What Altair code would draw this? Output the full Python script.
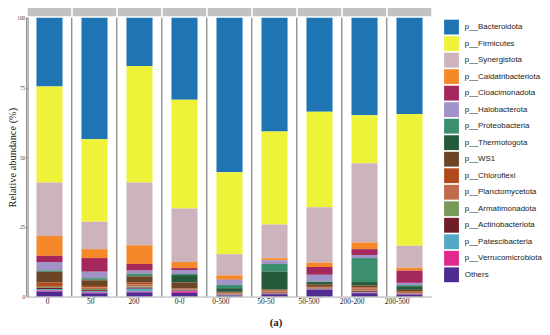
import altair as alt
import pandas as pd

samples = ["0", "50", "200", "0-0", "0-500", "50-50", "50-500", "200-200", "200-500"]
phyla = ["p__Bacteroidota", "p__Firmicutes", "p__Synergistota", "p__Caldatribacteriota",
         "p__Cloacimonadota", "p__Halobacterota", "p__Proteobacteria", "p__Thermotogota",
         "p__WS1", "p__Chloroflexi", "p__Planctomycetota", "p__Armatimonadota",
         "p__Actinobacteriota", "p__Patescibacteria", "p__Verrucomicrobiota", "Others"]
colors = ["#1f74b3", "#eef33a", "#cdb4bc", "#f5892a", "#a5285c", "#a192c8", "#3b8e6e", "#245a3a",
          "#6b4526", "#b04a1c", "#bf6a4a", "#789a59", "#6f1d26", "#56a9c6", "#e0298f", "#4f2a90"]

bacteroidota      = [24.7, 43.6, 17.3, 29.4, 55.4, 40.8, 33.7, 35.0, 34.5]
firmicutes        = [34.4, 29.6, 41.8, 39.0, 29.4, 33.4, 34.3, 17.2, 47.3]
synergistota      = [19.2, 9.8, 22.5, 19.2, 7.6, 12.1, 19.8, 28.4, 7.9]
caldatribacteriota = [7.1, 3.2, 6.7, 2.2, 1.5, 0.7, 1.6, 2.4, 1.0]
cloacimonadota    = [2.2, 4.9, 2.4, 0.7, 0.1, 0.1, 2.8, 2.1, 4.4]
halobacterota     = [3.0, 2.3, 1.1, 1.4, 1.8, 1.2, 2.4, 1.1, 0.8]
proteobacteria    = [0.4, 0.5, 0.6, 0.4, 1.2, 2.7, 0.2, 8.6, 0.4]
thermotogota      = [0.2, 0.3, 0.4, 2.6, 1.3, 6.5, 0.8, 1.2, 1.3]
ws1               = [3.8, 2.0, 2.2, 2.2, 0.3, 0.3, 0.9, 0.7, 0.4]
chloroflexi       = [1.2, 0.5, 0.6, 0.2, 0.3, 0.4, 0.3, 0.4, 0.3]
planctomycetota   = [0.4, 0.6, 0.8, 0.2, 0.3, 0.5, 0.3, 0.8, 0.5]
armatimonadota    = [0.3, 0.4, 0.4, 0.1, 0.1, 0.1, 0.1, 0.2, 0.1]
actinobacteriota  = [0.4, 0.3, 0.4, 0.3, 0.1, 0.2, 0.1, 0.3, 0.1]
patescibacteria   = [0.5, 0.5, 1.0, 0.2, 0.1, 0.1, 0.1, 0.2, 0.1]
verrucomicrobiota = [0.4, 0.3, 0.3, 0.6, 0.1, 0.1, 0.1, 0.2, 0.2]
others            = [1.8, 1.2, 1.5, 1.3, 0.4, 0.8, 2.5, 1.2, 0.7]

values = [bacteroidota, firmicutes, synergistota, caldatribacteriota, cloacimonadota,
          halobacterota, proteobacteria, thermotogota, ws1, chloroflexi, planctomycetota,
          armatimonadota, actinobacteriota, patescibacteria, verrucomicrobiota, others]

rows = []
for i, (p, vals) in enumerate(zip(phyla, values)):
    for s, v in zip(samples, vals):
        rows.append({"sample": s, "phylum": p, "value": v, "idx": i})
df = pd.DataFrame(rows)
strip_df = pd.DataFrame({"sample": samples})

xscale = alt.Scale(domain=samples, paddingInner=0.035, paddingOuter=0)
serif = "Liberation Serif"

bars = alt.Chart(df).mark_bar(width=alt.RelativeBandSize(0.6)).encode(
    x=alt.X("sample:N", scale=xscale, sort=samples,
            axis=alt.Axis(title=None, labelAngle=0, labelFont=serif, labelFontSize=7.5,
                          labelColor="#222", tickSize=2, tickColor="#bbb",
                          domainColor="#aaa", labelPadding=3)),
    y=alt.Y("value:Q", stack="zero", scale=alt.Scale(domain=[0, 100], nice=False),
            axis=alt.Axis(values=[0, 25, 50, 75, 100], title="Relative abundance (%)",
                          titleFont=serif, titleFontSize=10.5, titleFontWeight="normal",
                          titleColor="#222", titleX=-10, titleY=141, labelFont=serif,
                          labelFontSize=5.5, labelColor="#444", tickSize=2,
                          tickColor="#999", domainColor="#999", grid=False, labelPadding=1)),
    color=alt.Color("phylum:N", scale=alt.Scale(domain=phyla, range=colors),
                    legend=alt.Legend(title=None, orient="none", legendX=421, legendY=2,
                                      symbolType="square", symbolSize=225,
                                      symbolStrokeWidth=0, symbolOpacity=1,
                                      labelFont="Liberation Sans", labelFontSize=8,
                                      labelColor="#222", rowPadding=1.7, labelOffset=6,
                                      padding=0)),
    order=alt.Order("idx:Q", sort="descending"),
)

strips = alt.Chart(strip_df).mark_rect(color="#c2c2c2").encode(
    x=alt.X("sample:N", scale=xscale, sort=samples),
    y=alt.value(-10),
    y2=alt.value(-1.5),
)

rules = alt.Chart(strip_df).mark_rule(color="#666", strokeWidth=1).encode(
    x=alt.X("sample:N", scale=xscale, sort=samples, bandPosition=0),
    xOffset=alt.value(-1),
    y=alt.value(0),
    y2=alt.value(282),
)

chart = alt.layer(strips, rules, bars).properties(
    width=408,
    height=282,
    autosize=alt.AutoSizeParams(type="none"),
    padding={"left": 20, "top": 8, "right": 112, "bottom": 30},
    title=alt.TitleParams("(a)", orient="bottom", anchor="middle", dx=47, offset=12,
                          font=serif, fontSize=11, fontWeight="bold", color="#222"),
).configure_view(stroke=None)

chart.save("out.html", embed_options={"renderer": "svg", "actions": False})
